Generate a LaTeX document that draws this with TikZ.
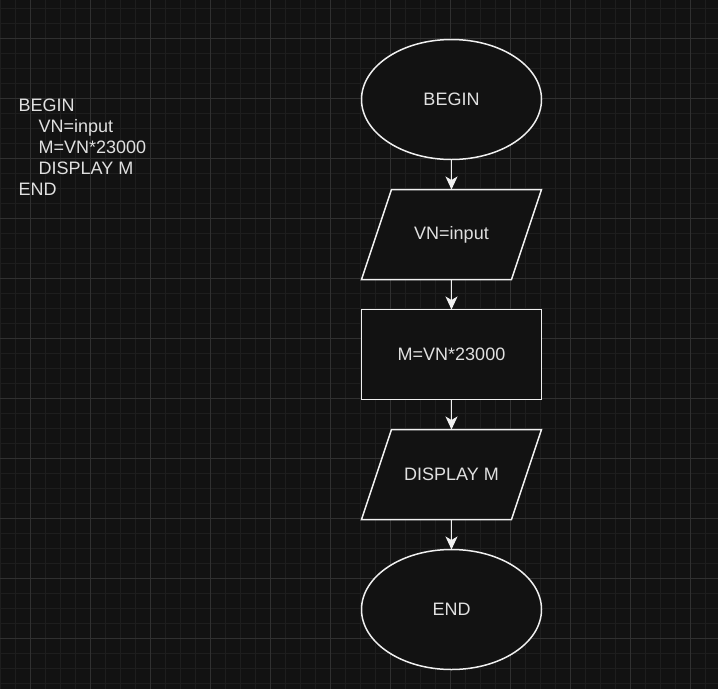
\documentclass[tikz,border=0pt]{standalone}
\usepackage{fontspec}
\setmainfont{Liberation Sans}
\usepackage{tikz}
\usetikzlibrary{positioning, shapes.geometric, arrows.meta, backgrounds}

\definecolor{canvas}{HTML}{121212}
\definecolor{minorline}{HTML}{1E1E1E}
\definecolor{majorline}{HTML}{303030}
\definecolor{ink}{HTML}{F0F0F0}
\definecolor{label}{HTML}{E0E0E0}

\tikzset{
  shapebase/.style={draw=ink, fill=canvas, line width=1.5pt, text=label,
    font=\fontsize{18}{21}\selectfont, inner sep=0pt, outer sep=0pt},
  terminal/.style={shapebase, ellipse, minimum width=180pt, minimum height=120pt},
  io/.style={shapebase, draw=none, fill=none, rectangle, minimum width=180pt, minimum height=90pt},
  slanted/.style={draw=ink, fill=canvas, line width=1.5pt, line join=miter},
  process/.style={shapebase, rectangle, minimum width=180pt, minimum height=90pt},
  flow/.style={draw=ink, line width=1.5pt, -{Stealth[length=13pt, width=12pt, inset=3.5pt]}},
  code/.style={text=label, font=\fontsize{18}{21}\selectfont, inner sep=0pt, anchor=base west}
}

\begin{document}
\begin{tikzpicture}[x=1pt, y=-1pt, node distance=30pt]
                    \useasboundingbox (0,0) rectangle (718,689);

                    % grid
                    \begin{scope}[on background layer]
                    \fill[canvas] (0,0) rectangle (718,689);
                    \foreach \k in {0,...,47}
                        \draw[minorline, line width=1pt] (15*\k+0.7,0) -- (15*\k+0.7,689);
                    \foreach \k in {0,...,45}
                        \draw[minorline, line width=1pt] (0,15*\k+8) -- (718,15*\k+8);
                    \foreach \k in {0,...,11}
                        \draw[majorline, line width=1pt] (60*\k+30.7,0) -- (60*\k+30.7,689);
                    \foreach \k in {0,...,10}
                        \draw[majorline, line width=1pt] (0,60*\k+38) -- (718,60*\k+38);
                    \end{scope}

                    % pseudocode
                    \node[code] (p1) at (18.5, 111) {BEGIN};
                    \node[code] (p2) at (38.5, 132.3) {VN=input};
                    \node[code] (p3) at (38.5, 153.4) {M=VN*23000};
                    \node[code] (p4) at (38.5, 174.5) {DISPLAY M};
                    \node[code] (p5) at (18.5, 195.6) {END};

                    % flowchart
                    \node[terminal] (start) at (451.5, 99.5) {BEGIN};
                    \node[io, below=of start] (read) {VN=input};
                    \node[process, below=of read] (convert) {M=VN*23000};
                    \node[io, below=of convert] (show) {DISPLAY M};
                    \node[terminal, below=of show] (stop) {END};

                    \begin{scope}[on background layer]
                    \foreach \n in {read, show}
                        \filldraw[slanted] ([xshift=30pt]\n.north west) -- (\n.north east)
                            -- ([xshift=-30pt]\n.south east) -- (\n.south west) -- cycle;
                    \end{scope}

                    \draw[flow] (start) -- (read);
                    \draw[flow] (read) -- (convert);
                    \draw[flow] (convert) -- (show);
                    \draw[flow] (show) -- (stop);
                \end{tikzpicture}
\end{document}
